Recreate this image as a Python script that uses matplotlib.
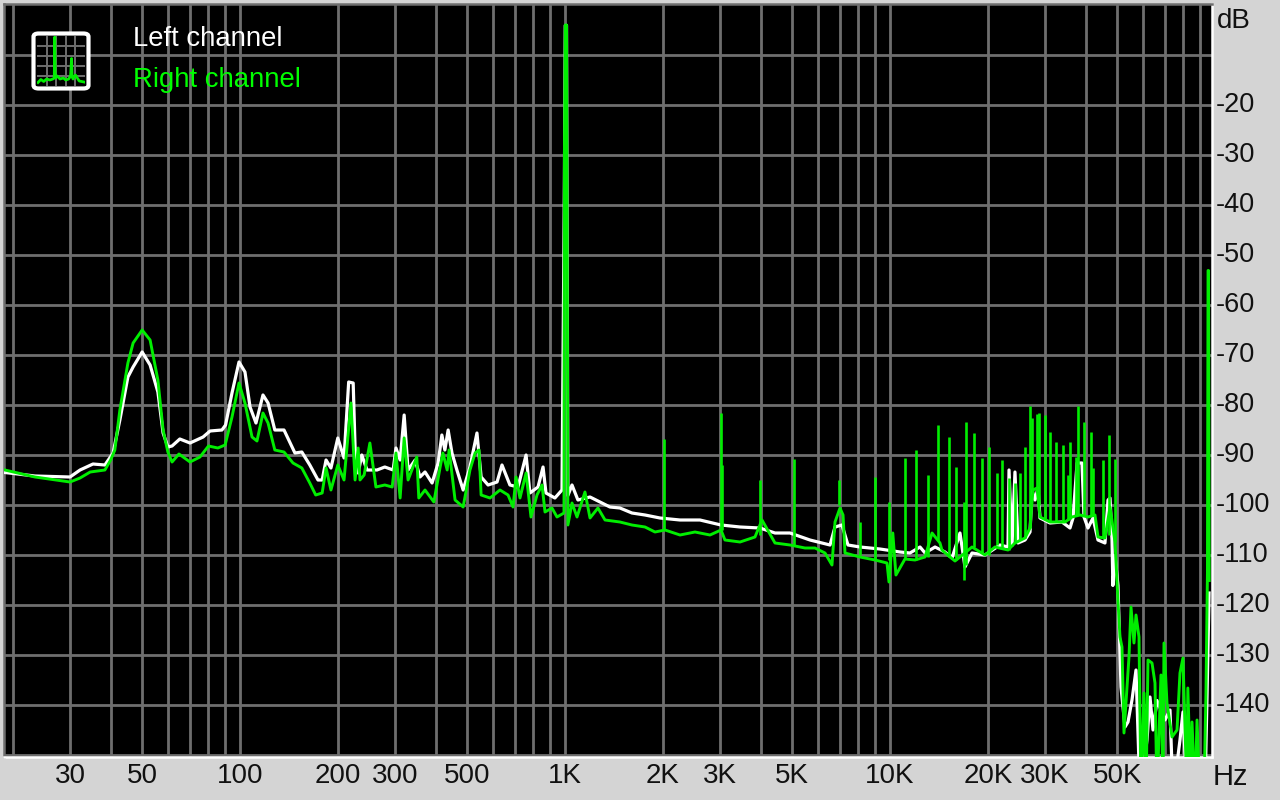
import matplotlib
matplotlib.use("Agg")
import matplotlib.pyplot as plt
from matplotlib.patches import FancyBboxPatch
from matplotlib.transforms import ScaledTranslation

plt.rcParams['font.family'] = ['Liberation Sans', 'DejaVu Sans']

W, H = 1280, 800
L, R, T, B = 4, 1212, 4, 757
F_MIN, F_MAX = 18.79, 97900
DB_TOP, DB_BOTTOM = 0.3, -150.3
OFF = -158

left_freq = [18.9, 23.4, 30, 32.2, 35.3, 38.4, 40.7, 42.7, 45.2, 46.9, 50, 52.9, 55.9, 58, 60, 61.8, 65.3, 70.2, 77, 80.9,
             88, 90.3, 94.5, 99.3, 103.6, 107.4, 112, 117.7, 122, 128, 136.6, 147.6, 155, 164, 173.8, 179, 184, 190.5, 200, 209,
             216, 223, 226, 231, 237, 246, 264, 279, 296, 302, 311, 320, 329, 346, 358, 371, 390, 407, 418, 427,
             437, 449, 465, 486, 510, 536, 552, 580, 618, 640, 677, 717, 759, 780, 826, 856, 874, 931, 979, 996,
             1002, 1011, 1014, 1021, 1051, 1096, 1194, 1281, 1375, 1476, 1607, 1763, 1960, 2259, 2602, 3020, 3456, 3981, 4428, 4924,
             5673, 6538, 6774, 7117, 7425, 8085, 9310, 10740, 11520, 12370, 12820, 13760, 14760, 15520, 16420, 17010, 17880, 19600, 21800, 23070,
             23240, 23740, 24240, 24770, 26030, 26970, 27350, 27940, 28540, 28940, 31070, 33820, 35800, 36570, 37640, 38970, 39530, 40660, 42130, 43650,
             45860, 46860, 47530, 48220, 48500, 49240, 50290, 51370, 52850, 53990, 55540, 57140, 58780, 61770, 63100, 64450, 66300, 70160, 72710, 74270,
             78030, 79700, 82000, 88050, 93100, 94500, 95900]
left_db = [-93.4, -94.1, -94.3, -92.9, -91.7, -91.9, -89.5, -82.9, -74.3, -72.3, -69.3, -71.9, -77.3, -85.5, -88.3, -88.1, -86.7, -87.5, -86.3, -85.1,
           -84.9, -83.9, -77.5, -71.3, -73.3, -80.3, -83.5, -77.9, -79.5, -84.9, -84.9, -89.5, -89.3, -91.9, -94.9, -94.9, -90.9, -92.5, -86.5, -90.5,
           -75.3, -75.5, -88.3, -93.5, -89.9, -92.9, -92.9, -92.3, -92.9, -88.5, -90.9, -81.9, -92.9, -90.9, -94.3, -93.3, -95.5, -91.5, -85.9, -88.9,
           -84.9, -89.5, -92.9, -96.9, -92.3, -85.5, -94.3, -95.9, -95.3, -91.9, -95.9, -96.3, -89.9, -97.5, -96.3, -92.3, -97.5, -98.5, -96.9, -35,
           -4, -4, -35, -98, -95.9, -98.9, -98.3, -99.3, -100.3, -100.5, -101.5, -101.9, -102.5, -102.9, -102.9, -103.9, -104.3, -104.5, -105.5, -105.5,
           -106.9, -107.9, -104.3, -103.9, -107.9, -108.3, -108.7, -109.3, -109.5, -108.3, -109.5, -108.3, -109.3, -110.5, -105.5, -112.3, -109.5, -109.9, -107.9, -108.3,
           -92.9, -108, -93.3, -107.5, -106.9, -105.3, -96.9, -98.9, -96.5, -102.5, -103.5, -103.3, -104.5, -102.5, -91.5, -91.5, -102.3, -104.5, -102.5, -106.9,
           -107.5, -98.9, -98.5, -106.9, -116, -110, -116, -136.3, -144.3, -143.3, -138.9, -132.9, OFF, -146.9, -138.3, -144.9, -139, -142.9, -140.9, OFF,
           -146.9, -141.3, OFF, OFF, OFF, -138.3, -117.5]

right_freq = [18.9, 23.4, 30, 32.2, 34.6, 38.4, 40, 41.2, 42.7, 45.2, 46.9, 50, 52.9, 55.9, 58, 60, 61.8, 64.9, 70.2, 75.3,
              80, 85.5, 90, 94.5, 99.3, 103.6, 108.9, 112.8, 117.7, 122, 128, 136.6, 145.6, 155, 164, 171, 179, 184, 190.5, 200,
              209, 219.5, 226, 231, 234, 241, 251, 262, 279, 294, 302, 311, 320, 329, 350, 355, 371, 395, 413, 421,
              434, 440, 459, 486, 510, 529, 544, 552, 588, 631, 668, 692, 707, 727, 759, 786, 820, 850, 868, 912,
              945, 993, 996, 1002, 1011, 1014, 1021, 1051, 1089, 1152, 1194, 1263, 1328, 1476, 1607, 1763, 1892, 2031, 2259, 2512,
              2794, 3020, 3106, 3456, 3842, 4038, 4428, 4924, 5475, 5878, 6310, 6630, 6774, 7017, 7170, 7270, 8085, 8991, 9790, 9929,
              10200, 10430, 11120, 11940, 12820, 13470, 14250, 14450, 15300, 15850, 16420, 17880, 19600, 21040, 23070, 24240, 26030, 26970, 27540, 28340,
              28940, 31070, 34570, 36310, 38430, 40660, 42730, 43650, 45860, 47530, 49240, 50290, 51010, 51740, 52480, 54370, 55150, 56330, 57140, 58370,
              59200, 60480, 61340, 62210, 64000, 65370, 66300, 68200, 69180, 69670, 71160, 73750, 76400, 78030, 79700, 82000, 82500, 84370, 84970, 86800,
              88050, 89900, 92500, 93800, 94800, 95200, 95500, 96000]
right_db = [-92.9, -94.3, -95.3, -94.5, -93.3, -92.9, -90.9, -88.9, -80.9, -71.5, -67.5, -64.9, -66.9, -74.9, -84.9, -89.3, -91.3, -89.7, -91.3, -90.3,
            -88.1, -88.5, -87.9, -82.3, -75.5, -79.5, -86.3, -87.1, -81.5, -83.5, -88.9, -89.3, -91.5, -92.5, -95.5, -97.9, -97.5, -92.5, -96.9, -91.9,
            -94.9, -79.5, -94.9, -88.5, -94.9, -93.9, -87.5, -96.3, -95.9, -96.3, -89.5, -98.5, -86.5, -94.9, -90.3, -98.5, -96.9, -99.3, -92.3, -89.5,
            -92.9, -88.9, -98.9, -100.3, -92.9, -89.5, -88.9, -97.9, -98.5, -96.9, -97.9, -100.3, -94.3, -98.5, -93.5, -102.3, -97.9, -95.9, -101.3, -100.5,
            -102.3, -101.5, -30, -3.9, -3.9, -30, -103.9, -99.5, -102.3, -97.3, -102.5, -100.5, -102.9, -103.3, -103.9, -104.3, -105.3, -104.9, -105.9, -105.3,
            -105.9, -104.9, -106.9, -107.3, -106.3, -102.9, -107.5, -107.9, -108.5, -108.5, -109.5, -111.9, -103.3, -100.5, -101.9, -109.5, -110.3, -110.9, -111.5, -115.3,
            -105.5, -113.9, -110.7, -110.9, -110.3, -105.5, -107.5, -108.9, -110.3, -111.1, -110.3, -108.3, -109.9, -108.3, -108.9, -107.5, -106.5, -104.5, -96.9, -96.5,
            -102.3, -103.3, -103.3, -102.3, -101.9, -102.3, -101.9, -106.3, -106.5, -100.3, -107.3, -119, -126.3, -128.3, -145.5, -130.3, -120.3, -127.5, -121.9, -126.3,
            OFF, -137.5, OFF, -130.9, -131.5, -135.5, OFF, -133.9, OFF, -127.5, -139.5, -146.3, -144.9, -133.5, -130.5, OFF, -136.5, OFF, -143.3, OFF,
            -142.9, OFF, OFF, -137.5, -113.5, -53, -53, -115]

spike_freq = [2017, 3020, 3042, 3981, 5066, 6968, 8085, 8991, 9929, 11120, 12020, 13090, 14050, 15190, 15960, 16900, 17130, 18140, 19190, 20170,
              21340, 22110, 23240, 24240, 25120, 26030, 26970, 27350, 28340, 28740, 29990, 31070, 32420, 34070, 35300, 35800, 37370, 37910, 39530, 41550,
              42130, 45220, 47200, 49240]
spike_top = [-86.7, -81.5, -91.9, -94.9, -90.7, -94.9, -103.3, -94.3, -99.3, -90.5, -88.9, -93.9, -83.9, -86.3, -92.3, -99.3, -83.3, -85.5, -90.5, -88.3,
             -93.5, -90.9, -94.5, -95.5, -93.5, -88.3, -80.1, -82.5, -81.7, -81.5, -81.9, -85.3, -87.3, -87.9, -93.9, -87.3, -90.3, -80.1, -83.3, -85.3,
             -92.5, -90.9, -85.9, -90.7]
spike_base = [-104.9, -104.9, -105, -106, -107.9, -100, -110, -110.9, -111, -110.7, -110.9, -110.3, -107, -110.3, -111, -115, -112, -108.3, -109.5, -109.9,
              -108, -108.3, -108.9, -107.5, -107, -106.5, -104.5, -97, -97, -100, -103, -103.3, -103.3, -103.3, -103, -102.8, -102, -102, -102, -102,
              -102, -106.5, -106, -107.3]

db_ticks = [-20, -30, -40, -50, -60, -70, -80, -90, -100, -110, -120, -130, -140]
db_grid = [-10] + db_ticks + [-150]
freq_labels = ['30', '50', '100', '200', '300', '500', '1K', '2K', '3K', '5K', '10K', '20K', '30K', '50K']
freq_ticks = [30, 50, 100, 200, 300, 500, 1000, 2000, 3000, 5000, 10000, 20000, 30000, 50000]
freq_grid = [20, 40, 60, 70, 80, 90, 400, 600, 700, 800, 900, 4000, 6000, 7000, 8000, 9000, 40000, 60000, 70000, 80000, 90000]

icon_grid = [0.2, 0.4, 0.6, 0.8]
icon_x = [0.02, 0.08, 0.14, 0.2, 0.27, 0.33, 0.36, 0.37, 0.38, 0.42, 0.48, 0.55, 0.6, 0.66, 0.7, 0.72, 0.73, 0.75, 0.8, 0.88, 0.98]
icon_y = [0.07, 0.13, 0.09, 0.14, 0.12, 0.14, 0.16, 0.98, 0.16, 0.2, 0.14, 0.16, 0.12, 0.14, 0.2, 0.55, 0.2, 0.14, 0.22, 0.1, 0.08]

GRID = '#6e6e6e'
GREEN = '#00ee00'
BG = '#d4d4d4'
INK = '#111111'

fig = plt.figure(figsize=(W / 100, H / 100), dpi=100, facecolor=BG)
ax = fig.add_axes([L / W, 1 - B / H, (R - L) / W, (B - T) / H], facecolor='black')
ax.set_xscale('log')
ax.set_xlim(F_MIN, F_MAX)
ax.set_ylim(DB_BOTTOM, DB_TOP)

ax.set_xticks(freq_ticks, freq_labels)
ax.set_xticks(freq_grid, [''] * len(freq_grid), minor=True)
ax.set_yticks(db_ticks, [str(v) for v in db_ticks])
ax.set_yticks(db_grid, [''] * len(db_grid), minor=True)
ax.yaxis.tick_right()
ax.tick_params(which='both', length=0)
ax.tick_params(axis='x', which='major', labelsize=20, pad=4, colors=INK)
ax.tick_params(axis='y', which='major', labelsize=19.5, pad=2.5, colors=INK)
ax.grid(True, which='both', color=GRID, lw=2.0)
ax.set_axisbelow(True)

shift_up = ScaledTranslation(0, 3 / 72 * 0.72, fig.dpi_scale_trans)
for lab in ax.get_yticklabels():
    lab.set_transform(lab.get_transform() + shift_up)

for side, col in {'top': GRID, 'left': GRID, 'right': 'white', 'bottom': 'white'}.items():
    ax.spines[side].set_color(col)
    ax.spines[side].set_linewidth(1.8)

ax.plot(left_freq, left_db, color='white', lw=2.3, solid_joinstyle='round', zorder=3)
ax.vlines(spike_freq, spike_base, spike_top, color=GREEN, lw=1.9, zorder=4)
ax.plot(right_freq, right_db, color=GREEN, lw=2.1, solid_joinstyle='round', zorder=5)

fig.text(133 / W, 1 - 39 / H, 'Left channel', color='white', fontsize=19.8, va='center', ha='left')
fig.text(133 / W, 1 - 80 / H, 'Right channel', color='#00ff00', fontsize=19.8, va='center', ha='left')
fig.text(1217 / W, 1 - 21 / H, 'dB', color=INK, fontsize=20, va='center', ha='left')
fig.text(1213 / W, 1 - 777 / H, 'Hz', color=INK, fontsize=21, va='center', ha='left')

icon = fig.add_axes([37 / W, 1 - 86 / H, 48 / W, 50 / H], facecolor='none')
icon.set_xlim(0, 1)
icon.set_ylim(0, 1)
icon.axis('off')
fig.add_artist(FancyBboxPatch((33.5 / W, 1 - 88.5 / H), 55 / W, 55 / H, boxstyle='round,pad=0,rounding_size=0.004',
                              transform=fig.transFigure, fc='black', ec='white', lw=3.0, zorder=2))
icon.set_zorder(3)
for g in icon_grid:
    icon.plot([g, g], [0.03, 0.98], color=GRID, lw=1.4)
    icon.plot([0.0, 1.0], [g, g], color=GRID, lw=1.4)
icon.plot(icon_x, icon_y, color=GREEN, lw=2.0)

fig.savefig('out.png', dpi=100, facecolor=BG)
